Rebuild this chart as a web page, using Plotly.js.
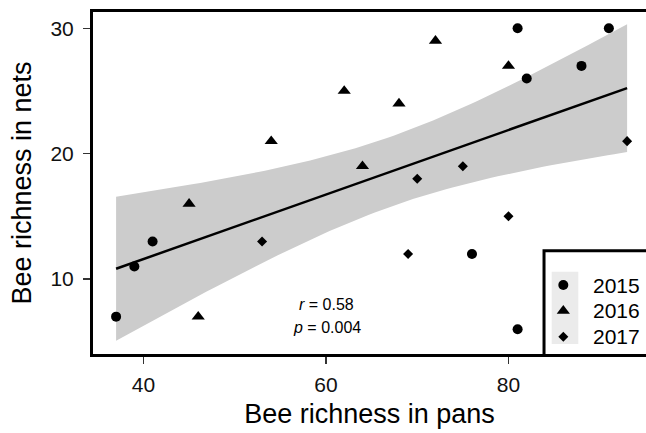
<!DOCTYPE html>
<html>
<head>
<meta charset="utf-8">
<script src="https://cdn.plot.ly/plotly-3.0.1.min.js"></script>
<style>html,body{margin:0;padding:0;background:#fff;}#chart{width:646px;height:433px;}</style>
</head>
<body>
<div id="chart"></div>
<script>
// ---- data ----
const years = ['2015', '2016', '2017'];
const symbols = ['circle', 'triangle-up', 'diamond'];
const markerSizes = [10, 11.5, 7.7];

const pans2015 = [37, 39, 41, 76, 81, 81, 82, 88, 91];
const nets2015 = [7, 11, 13, 12, 6, 30, 26, 27, 30];
const pans2016 = [45, 46, 54, 62, 64, 68, 72, 80];
const nets2016 = [16, 7, 21, 25, 19, 24, 29, 27];
const pans2017 = [53, 69, 70, 75, 80, 93];
const nets2017 = [13, 12, 18, 19, 15, 21];

const xTicks = [40, 60, 80];
const yTicks = [10, 20, 30];
const statR = '0.58';
const statP = '0.004';
const T_CRIT = 2.0796; // qt(0.975, df = 21)

// ---- linear fit with 95% confidence band ----
const allX = [].concat(pans2015, pans2016, pans2017);
const allY = [].concat(nets2015, nets2016, nets2017);
const n = allX.length;
const mx = allX.reduce((a, b) => a + b, 0) / n;
const my = allY.reduce((a, b) => a + b, 0) / n;
let sxx = 0, sxy = 0, syy = 0;
for (let i = 0; i < n; i++) {
  sxx += (allX[i] - mx) ** 2;
  sxy += (allX[i] - mx) * (allY[i] - my);
  syy += (allY[i] - my) ** 2;
}
const slope = sxy / sxx;
const intercept = my - slope * mx;
const sRes = Math.sqrt((syy - slope * sxy) / (n - 2));
const xMin = Math.min(...allX), xMax = Math.max(...allX);
const gx = [], gy = [], lo = [], hi = [];
const steps = 80;
for (let k = 0; k < steps; k++) {
  const x = xMin + (xMax - xMin) * k / (steps - 1);
  const y = intercept + slope * x;
  const se = sRes * Math.sqrt(1 / n + (x - mx) ** 2 / sxx);
  gx.push(x); gy.push(y);
  lo.push(y - T_CRIT * se); hi.push(y + T_CRIT * se);
}

const FONT = 'Liberation Sans, Arial, Helvetica, sans-serif';
const pansByYear = [pans2015, pans2016, pans2017];
const netsByYear = [nets2015, nets2016, nets2017];

const traces = [
  {x: gx, y: lo, mode: 'lines', line: {width: 0, color: 'rgba(0,0,0,0)'}, showlegend: false, hoverinfo: 'skip'},
  {x: gx, y: hi, mode: 'lines', fill: 'tonexty', fillcolor: '#cccccc', line: {width: 0, color: 'rgba(0,0,0,0)'}, showlegend: false, hoverinfo: 'skip'},
  {x: gx, y: gy, mode: 'lines', line: {color: '#000', width: 2.5}, showlegend: false}
];
years.forEach((yr, i) => {
  traces.push({
    x: pansByYear[i], y: netsByYear[i], mode: 'markers', name: yr,
    marker: {symbol: symbols[i], size: markerSizes[i], color: '#000'},
    showlegend: false
  });
  // legend key symbol (drawn on its own hidden axes)
  traces.push({
    x: [0], y: [i], mode: 'markers', xaxis: 'x2', yaxis: 'y2',
    marker: {symbol: symbols[i], size: markerSizes[i], color: '#000'},
    showlegend: false, hoverinfo: 'skip'
  });
});

const annotations = [
  {xref: 'x', yref: 'y', x: 60.1, y: 7.93, text: '<i>r</i> = ' + statR, showarrow: false,
   font: {family: FONT, size: 16, color: '#000'}, xanchor: 'center', yanchor: 'middle'},
  {xref: 'x', yref: 'y', x: 60.1, y: 6.13, text: '<i>p</i> = ' + statP, showarrow: false,
   font: {family: FONT, size: 16, color: '#000'}, xanchor: 'center', yanchor: 'middle'}
];
years.forEach((yr, i) => {
  annotations.push({xref: 'paper', yref: 'y2', x: 0.9005, y: i, text: yr, showarrow: false,
    xanchor: 'left', yanchor: 'middle', font: {family: FONT, size: 21, color: '#000'}});
});

const layout = {
  width: 646, height: 433,
  margin: {l: 93, r: 0, t: 12, b: 79},
  paper_bgcolor: '#fff', plot_bgcolor: 'rgba(0,0,0,0)',
  font: {family: FONT, color: '#000'},
  showlegend: false,
  xaxis: {
    range: [34.47, 95.07], tickvals: xTicks, ticktext: xTicks.map(String),
    showline: true, linewidth: 3, linecolor: '#000', mirror: false,
    ticks: 'outside', ticklen: 7, tickwidth: 1.2, tickcolor: '#333',
    ticklabelstandoff: 3,
    tickfont: {family: FONT, size: 21, color: '#111'},
    showgrid: false, zeroline: false,
    title: {text: 'Bee richness in pans', font: {family: FONT, size: 27, color: '#000'}, standoff: 9}
  },
  yaxis: {
    range: [4.02, 31.30], tickvals: yTicks, ticktext: yTicks.map(String),
    showline: true, linewidth: 3, linecolor: '#000', mirror: false,
    ticks: 'outside', ticklen: 7, tickwidth: 1.2, tickcolor: '#333',
    ticklabelstandoff: 5,
    tickfont: {family: FONT, size: 21, color: '#111'},
    showgrid: false, zeroline: false,
    title: {text: 'Bee richness in nets', font: {family: FONT, size: 27, color: '#000'}, standoff: 11}
  },
  xaxis2: {domain: [0.8264, 0.8745], range: [-1, 1], visible: false, anchor: 'y2', fixedrange: true},
  yaxis2: {domain: [0.0129, 0.2395], range: [2.5, -0.5], visible: false, anchor: 'x2', fixedrange: true},
  shapes: [
    // top frame line (panel continues past the right edge)
    {type: 'line', xref: 'paper', yref: 'paper', x0: -0.0054, x1: 1.05, y0: 1.0044, y1: 1.0044,
     line: {color: '#000', width: 3}, layer: 'below'},
    // legend box
    {type: 'rect', xref: 'paper', yref: 'paper', x0: 0.8156, x1: 1.03, y0: -0.0044, y1: 0.3018,
     line: {color: '#000', width: 3}, fillcolor: '#fff', layer: 'below'},
    // legend key background
    {type: 'rect', xref: 'paper', yref: 'paper', x0: 0.8295, x1: 0.8776, y0: 0.0292, y1: 0.2406,
     line: {width: 0}, fillcolor: '#ebebeb', layer: 'below'}
  ],
  annotations: annotations
};

Plotly.newPlot('chart', traces, layout, {displayModeBar: false, staticPlot: true});
</script>
</body>
</html>
